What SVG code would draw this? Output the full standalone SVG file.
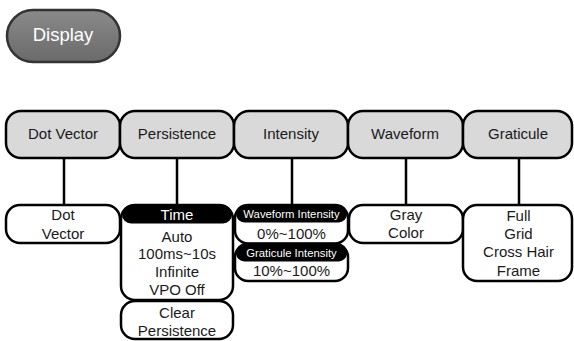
<svg xmlns="http://www.w3.org/2000/svg" width="574" height="341" viewBox="0 0 574 341">
<defs>
<linearGradient id="btn" x1="0" y1="0" x2="0" y2="1">
<stop offset="0" stop-color="#8a8a8a"/>
<stop offset="1" stop-color="#6a6a6a"/>
</linearGradient>
</defs>
<style>
text{font-family:"Liberation Sans",Arial,sans-serif;text-anchor:middle;fill:#1a1a1a}
.top{fill:#d9d9d9;stroke:#000;stroke-width:2.5}
.box{fill:#fff;stroke:#000;stroke-width:2.5}
.hdr{fill:#000}
.t{font-size:15px}
.w{fill:#fff}
.s{font-size:11.3px;fill:#fff}
.c{stroke:#000;stroke-width:2.5;fill:none}
</style>
<rect width="574" height="341" fill="#fff"/>
<g id="display">
<rect x="7" y="10" width="113" height="52" rx="26" fill="url(#btn)" stroke="#333" stroke-width="2.5"/>
<text x="63" y="41" style="font-size:18.5px;fill:#fff">Display</text>
</g>
<g id="connectors">
<line class="c" x1="64" y1="158" x2="64" y2="205"/>
<line class="c" x1="177" y1="158" x2="177" y2="205"/>
<line class="c" x1="292" y1="158" x2="292" y2="205"/>
<line class="c" x1="406" y1="158" x2="406" y2="205"/>
<line class="c" x1="519" y1="158" x2="519" y2="205"/>
</g>
<g id="dotvector">
<rect class="top" x="6" y="111" width="114" height="47" rx="15"/>
<text class="t" x="63" y="139">Dot Vector</text>
</g>
<g id="persistence">
<rect class="top" x="120" y="111" width="114" height="47" rx="15"/>
<text class="t" x="177" y="139">Persistence</text>
</g>
<g id="intensity">
<rect class="top" x="234" y="111" width="114" height="47" rx="15"/>
<text class="t" x="291" y="139">Intensity</text>
</g>
<g id="waveform">
<rect class="top" x="348" y="111" width="115" height="47" rx="15"/>
<text class="t" x="405" y="139">Waveform</text>
</g>
<g id="graticule">
<rect class="top" x="463" y="111" width="109" height="47" rx="15"/>
<text class="t" x="518" y="139">Graticule</text>
</g>
<g id="dotvector-opts">
<rect class="box" x="6" y="205" width="114" height="38" rx="14"/>
<text class="t" x="63" y="220">Dot</text>
<text class="t" x="63" y="238.5">Vector</text>
</g>
<g id="persistence-time">
<rect class="box" x="121" y="205" width="112" height="95" rx="14"/>
<rect class="hdr" x="122" y="205" width="110" height="18.5" rx="9"/>
<text class="t w" x="177" y="219.5">Time</text>
<text class="t" x="177" y="241.5">Auto</text>
<text class="t" x="177" y="259.3">100ms~10s</text>
<text class="t" x="177" y="277">Infinite</text>
<text class="t" x="177" y="294.7">VPO Off</text>
</g>
<g id="persistence-clear">
<rect class="box" x="121" y="301" width="112" height="38" rx="14"/>
<text class="t" x="177" y="318">Clear</text>
<text class="t" x="177" y="335.5">Persistence</text>
</g>
<g id="waveform-intensity">
<rect class="box" x="235" y="205" width="113" height="38.5" rx="13"/>
<rect class="hdr" x="236" y="205" width="111" height="17.5" rx="8.5"/>
<text class="s" x="291.5" y="218">Waveform Intensity</text>
<text class="t" x="291.5" y="238.7">0%~100%</text>
</g>
<g id="graticule-intensity">
<rect class="box" x="235" y="244" width="113" height="37" rx="13"/>
<rect class="hdr" x="236" y="244" width="111" height="17.5" rx="8.5"/>
<text class="s" x="291.5" y="256.5">Graticule Intensity</text>
<text class="t" x="291.5" y="276.4">10%~100%</text>
</g>
<g id="waveform-opts">
<rect class="box" x="349" y="205" width="114" height="38" rx="14"/>
<text class="t" x="406" y="220.4">Gray</text>
<text class="t" x="406" y="238.4">Color</text>
</g>
<g id="graticule-opts">
<rect class="box" x="463" y="205" width="109" height="76" rx="14"/>
<text class="t" x="518.5" y="221">Full</text>
<text class="t" x="518.5" y="239">Grid</text>
<text class="t" x="518.5" y="257.3">Cross Hair</text>
<text class="t" x="518.5" y="275.5">Frame</text>
</g>
</svg>
